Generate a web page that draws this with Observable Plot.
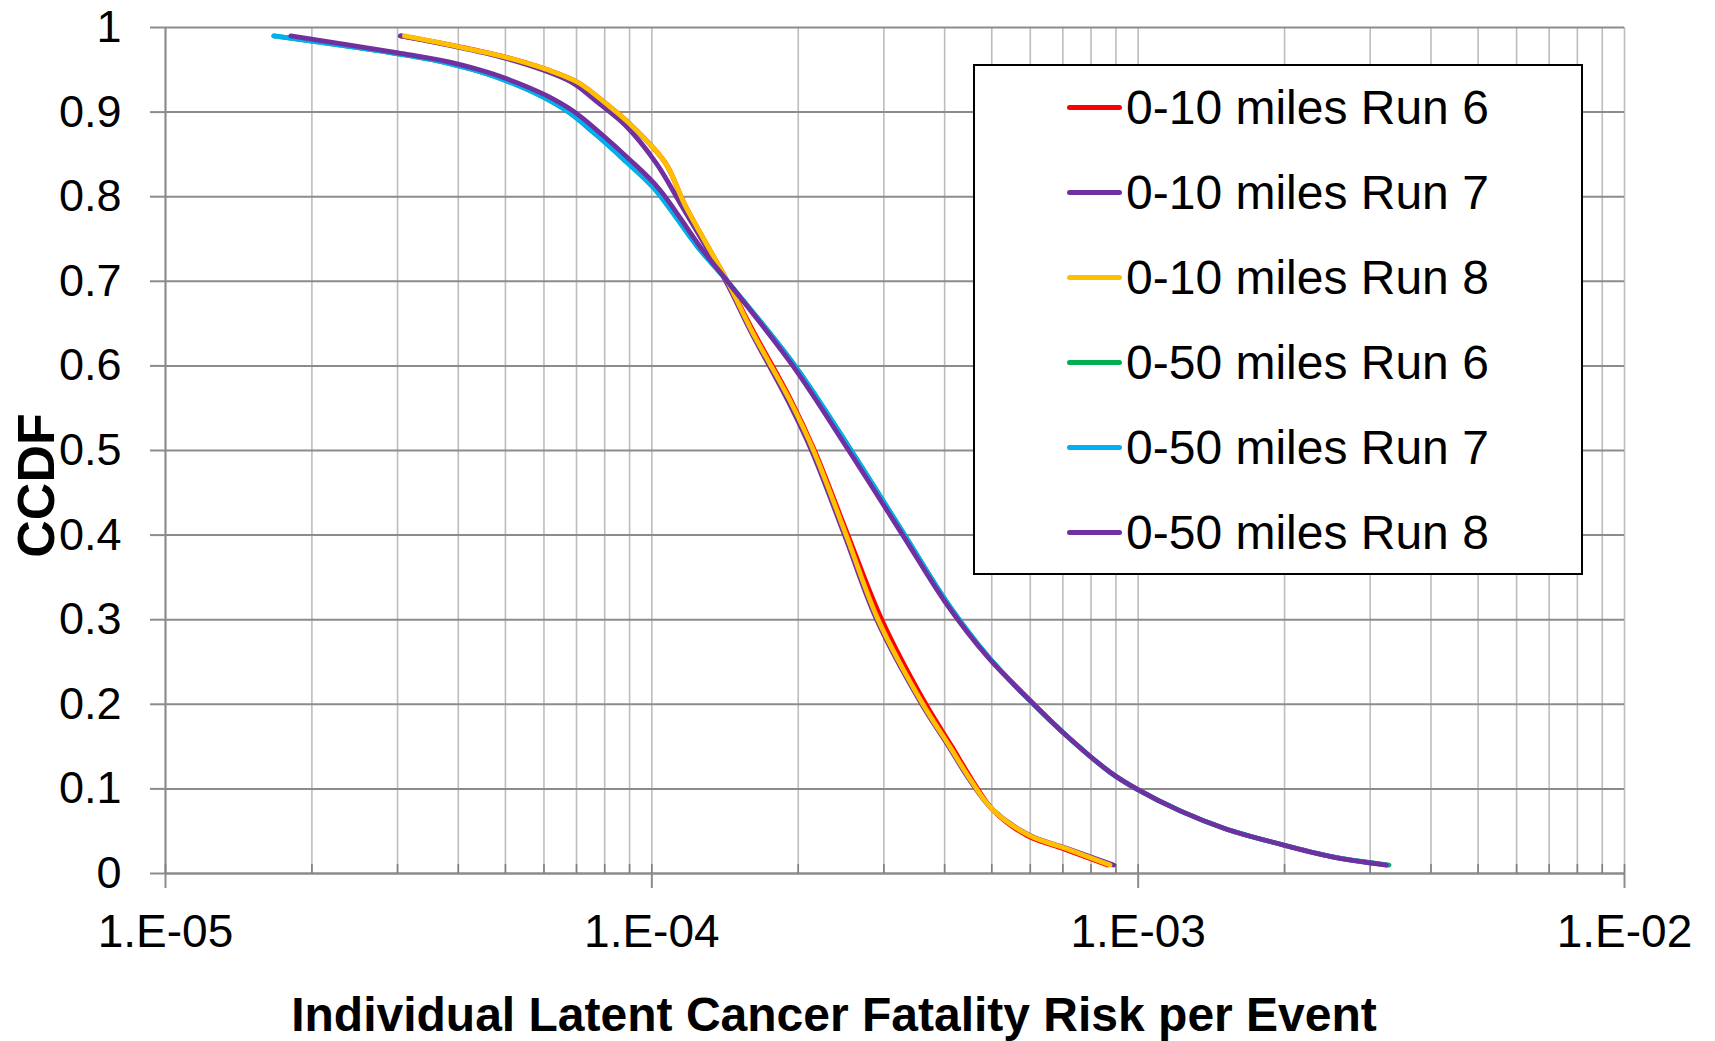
<!DOCTYPE html>
<html>
<head>
<meta charset="utf-8">
<script src="https://cdn.jsdelivr.net/npm/d3@7"></script>
<script src="https://cdn.jsdelivr.net/npm/@observablehq/plot@0.6"></script>
<style>
  html, body { margin: 0; padding: 0; background: #fff; }
  #chart { position: relative; width: 1715px; height: 1041px; }
  #chart svg { display: block; }
  .legend {
    position: absolute; left: 973px; top: 64px; width: 610px; height: 511px;
    box-sizing: border-box; border: 2px solid #000; background: #fff;
    font-family: "Liberation Sans", Arial, sans-serif; font-size: 48px; color: #000;
  }
  .legend .row {
    position: absolute; left: 0; height: 85px; display: flex; align-items: center; white-space: nowrap;
  }
  .legend .swatch { margin-left: 92px; width: 55px; height: 5px; border-radius: 3px; }
  .legend .label { margin-left: 4px; }
</style>
</head>
<body>
<div id="chart"></div>
<script>
// CCDF levels and individual LCF risk per event, 0-10 mile circle
const ccdf10 = [0.99, 0.98, 0.965, 0.95, 0.935, 0.91, 0.885, 0.84, 0.79, 0.70, 0.64, 0.56, 0.50, 0.40, 0.30, 0.20, 0.15, 0.11, 0.075, 0.045, 0.03, 0.01];
const risk10Run6 = [3.05e-5, 3.8e-5, 5.0e-5, 6.1e-5, 7.05e-5, 8.05e-5, 9.05e-5, 1.066e-4, 1.17e-4, 1.43e-4, 1.62e-4, 1.93e-4, 2.16e-4, 2.53e-4, 2.97e-4, 3.66e-4, 4.14e-4, 4.56e-4, 5.03e-4, 5.9e-4, 6.95e-4, 8.65e-4];
const risk10Run7 = [3.04e-5, 3.75e-5, 4.9e-5, 5.95e-5, 6.85e-5, 7.8e-5, 8.8e-5, 1.02e-4, 1.15e-4, 1.42e-4, 1.60e-4, 1.90e-4, 2.13e-4, 2.49e-4, 2.90e-4, 3.59e-4, 4.08e-4, 4.51e-4, 5.03e-4, 5.99e-4, 7.1e-4, 8.9e-4];
const risk10Run8 = [3.10e-5, 3.8e-5, 5.0e-5, 6.1e-5, 7.05e-5, 8.05e-5, 9.05e-5, 1.066e-4, 1.17e-4, 1.43e-4, 1.61e-4, 1.92e-4, 2.15e-4, 2.51e-4, 2.92e-4, 3.61e-4, 4.1e-4, 4.53e-4, 5.03e-4, 5.97e-4, 7.06e-4, 8.75e-4];

// CCDF levels and individual LCF risk per event, 0-50 mile circle
const ccdf50 = [0.99, 0.97, 0.96, 0.95, 0.94, 0.92, 0.90, 0.875, 0.845, 0.81, 0.74, 0.70, 0.60, 0.50, 0.40, 0.32, 0.255, 0.20, 0.165, 0.12, 0.10, 0.074, 0.053, 0.036, 0.02, 0.01];
const risk50Run6 = [1.67e-5, 2.92e-5, 3.67e-5, 4.29e-5, 4.86e-5, 5.87e-5, 6.74e-5, 7.62e-5, 8.72e-5, 1.01e-4, 1.245e-4, 1.43e-4, 1.97e-4, 2.57e-4, 3.31e-4, 4.05e-4, 4.94e-4, 6.1e-4, 7.06e-4, 8.74e-4, 9.92e-4, 1.22e-3, 1.51e-3, 1.92e-3, 2.5e-3, 3.28e-3];
const risk50Run7 = [1.67e-5, 2.92e-5, 3.67e-5, 4.29e-5, 4.86e-5, 5.87e-5, 6.74e-5, 7.62e-5, 8.72e-5, 1.01e-4, 1.245e-4, 1.43e-4, 1.97e-4, 2.57e-4, 3.31e-4, 4.05e-4, 4.94e-4, 6.1e-4, 7.06e-4, 8.74e-4, 9.92e-4, 1.22e-3, 1.51e-3, 1.92e-3, 2.5e-3, 3.25e-3];
const risk50Run8 = [1.81e-5, 3.01e-5, 3.78e-5, 4.42e-5, 5.0e-5, 6.05e-5, 6.94e-5, 7.84e-5, 8.96e-5, 1.032e-4, 1.26e-4, 1.43e-4, 1.95e-4, 2.54e-4, 3.28e-4, 4.02e-4, 4.92e-4, 6.1e-4, 7.06e-4, 8.74e-4, 9.92e-4, 1.22e-3, 1.51e-3, 1.92e-3, 2.49e-3, 3.24e-3];

// Series names (legend order = drawing order)
const seriesNames = ["0-10 miles Run 6", "0-10 miles Run 7", "0-10 miles Run 8", "0-50 miles Run 6", "0-50 miles Run 7", "0-50 miles Run 8"];

// Axis ticks and their labels
const yTicks = [0, 0.1, 0.2, 0.3, 0.4, 0.5, 0.6, 0.7, 0.8, 0.9, 1];
const yTickLabels = ["0", "0.1", "0.2", "0.3", "0.4", "0.5", "0.6", "0.7", "0.8", "0.9", "1"];
const xTicks = [1e-5, 1e-4, 1e-3, 1e-2];
const xTickLabels = ["1.E-05", "1.E-04", "1.E-03", "1.E-02"];

const xTitle = "Individual Latent Cancer Fatality Risk per Event";
const yTitle = "CCDF";

// Styling
const seriesColors = ["#FF0000", "#7030A0", "#FFC000", "#00B050", "#00B0F0", "#7030A0"];
const font = "'Liberation Sans', Arial, Helvetica, sans-serif";
const gridMajor = "#8c8c8c";
const gridMinor = "#bdbdbd";

const seriesData = [
  [risk10Run6, ccdf10],
  [risk10Run7, ccdf10],
  [risk10Run8, ccdf10],
  [risk50Run6, ccdf50],
  [risk50Run7, ccdf50],
  [risk50Run8, ccdf50]
].map(([xs, ys]) => xs.map((x, i) => ({x, y: ys[i]})));

const xDomain = [xTicks[0], xTicks[xTicks.length - 1]];
const minorX = d3.scaleLog().domain(xDomain).ticks();

const chart = Plot.plot({
  width: 1715,
  height: 1041,
  marginLeft: 165,
  marginRight: 91,
  marginTop: 27,
  marginBottom: 168,
  style: {fontFamily: font, fontSize: "46px", color: "#000", background: "#fff"},
  x: {type: "log", domain: xDomain},
  y: {domain: [0, 1]},
  marks: [
    // grid
    Plot.gridX(minorX, {stroke: gridMinor, strokeOpacity: 1, strokeWidth: 1.6}),
    Plot.gridY(yTicks, {stroke: gridMajor, strokeOpacity: 1, strokeWidth: 2}),
    Plot.ruleX([xDomain[0]], {stroke: gridMajor, strokeWidth: 2}),
    Plot.ruleY([0], {stroke: gridMajor, strokeWidth: 2}),
    // axes
    Plot.axisY(yTicks, {
      tickSize: 15, tickPadding: 29, stroke: gridMajor, strokeWidth: 2,
      tickFormat: (d, i) => yTickLabels[i], fontSize: 45, fill: "#000", label: null
    }),
    Plot.axisX(xTicks, {tickSize: 15, stroke: gridMajor, strokeWidth: 2, text: null, label: null}),
    Plot.axisX(minorX, {tickSize: -9, stroke: "#7f7f7f", strokeWidth: 1.6, text: null, label: null}),
    Plot.text(xTicks, {
      x: d => d, text: (d, i) => xTickLabels[i], frameAnchor: "bottom", lineAnchor: "top",
      textAnchor: "middle", dy: 41, fontSize: 46, fill: "#000"
    }),
    // series
    ...seriesData.map((data, i) => Plot.line(data, {
      x: "x", y: "y", stroke: seriesColors[i], strokeWidth: 4.8,
      curve: "catmull-rom", strokeLinecap: "round", strokeLinejoin: "round"
    })),
    // axis titles
    Plot.text([xTitle], {
      text: d => d, frameAnchor: "bottom", lineAnchor: "bottom", textAnchor: "middle", dx: -61, dy: 157,
      fontSize: 48, fontWeight: "bold", fill: "#000"
    }),
    Plot.text([yTitle], {
      text: d => d, frameAnchor: "left", lineAnchor: "bottom", textAnchor: "middle", rotate: -90, dx: -112, dy: 35,
      fontSize: 52, fontWeight: "bold", fill: "#000"
    })
  ]
});

const host = document.getElementById("chart");
host.appendChild(chart);

// Legend box over the upper-right of the plot
const legend = document.createElement("div");
legend.className = "legend";
seriesNames.forEach((name, i) => {
  const row = document.createElement("div");
  row.className = "row";
  row.style.top = (-1.5 + 85 * i) + "px";
  const sw = document.createElement("div");
  sw.className = "swatch";
  sw.style.background = seriesColors[i];
  const lab = document.createElement("span");
  lab.className = "label";
  lab.textContent = name;
  row.appendChild(sw);
  row.appendChild(lab);
  legend.appendChild(row);
});
host.appendChild(legend);
</script>
</body>
</html>
